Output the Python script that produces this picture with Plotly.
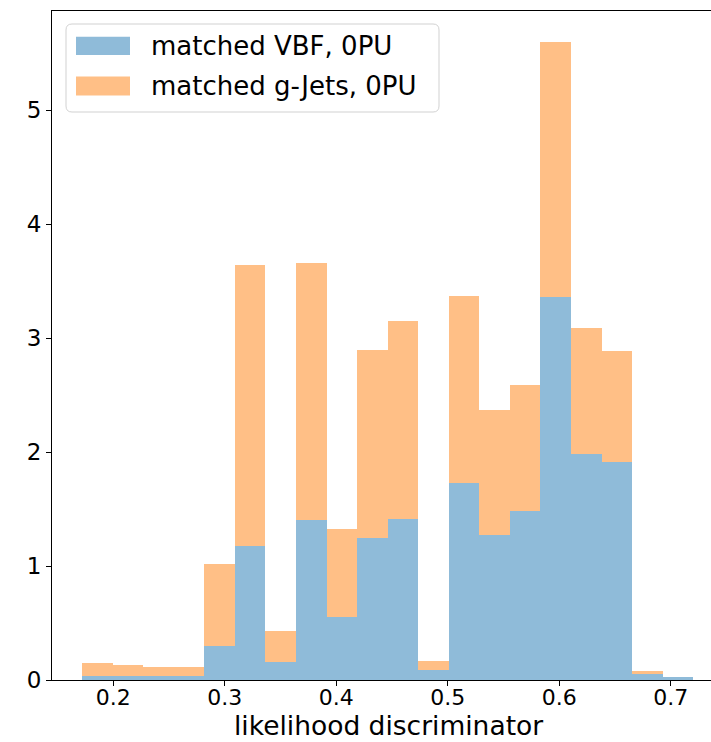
import numpy as np
import plotly.graph_objects as go

# Histogram binning of the likelihood discriminator
bin_lo, bin_hi, n_bins = 0.1719, 0.7202, 20

# Per-bin normalised counts (stacked: VBF at the bottom, g-Jets on top)
vbf_0pu = [0.033, 0.033, 0.033, 0.033, 0.300, 1.175, 0.160, 1.406, 0.551, 1.245,
           1.415, 0.090, 1.731, 1.275, 1.482, 3.358, 1.980, 1.912, 0.051, 0.022]
gjets_0pu = [0.112, 0.103, 0.077, 0.077, 0.714, 2.462, 0.266, 2.257, 0.770, 1.648,
             1.733, 0.079, 1.636, 1.094, 1.104, 2.239, 1.112, 0.978, 0.024, 0.000]

series_names = ["matched VBF, 0PU", "matched g-Jets, 0PU"]
series_colors = ["rgba(31,119,180,0.5)", "rgba(255,127,14,0.5)"]
x_label = "likelihood discriminator"

x_ticks = [0.2, 0.3, 0.4, 0.5, 0.6, 0.7]
y_ticks = [0, 1, 2, 3, 4, 5]

edges = np.linspace(bin_lo, bin_hi, n_bins + 1)
centers = 0.5 * (edges[:-1] + edges[1:])
width = edges[1] - edges[0]

W, H = 711, 742
ML, MR, MT, MB = 52, 0, 11, 62
FONT = "DejaVu Sans"

fig = go.Figure()
for name, vals, col in zip(series_names, [vbf_0pu, gjets_0pu], series_colors):
    fig.add_trace(go.Bar(
        x=centers, y=vals, width=width, name=name,
        marker=dict(color=col, line=dict(width=0)),
        showlegend=False,
    ))

# pixel -> paper helpers for the legend box and axis label
pw, ph = W - ML - MR, H - MT - MB


def px(x):
    return (x - ML) / pw


def py(y):
    return (H - MB - y) / ph


# legend frame with rounded corners
x0, x1, y0, y1, r = 66, 439, 24, 112, 6
rx, ry = r / pw, r / ph
X0, X1, Y0, Y1 = px(x0), px(x1), py(y0), py(y1)
path = (f"M {X0+rx},{Y0} L {X1-rx},{Y0} Q {X1},{Y0} {X1},{Y0-ry} "
        f"L {X1},{Y1+ry} Q {X1},{Y1} {X1-rx},{Y1} L {X0+rx},{Y1} "
        f"Q {X0},{Y1} {X0},{Y1+ry} L {X0},{Y0-ry} Q {X0},{Y0} {X0+rx},{Y0} Z")
shapes = [dict(type="path", path=path, xref="paper", yref="paper",
               line=dict(color="rgba(204,204,204,0.9)", width=1),
               fillcolor="rgba(255,255,255,0.8)", layer="above")]
annotations = []
rows = [(36.7, 55.0), (76.5, 95.5)]
for (ya, yb), name, col in zip(rows, series_names, series_colors):
    shapes.append(dict(type="rect", xref="paper", yref="paper",
                       x0=px(76), x1=px(130), y0=py(yb), y1=py(ya),
                       fillcolor=col, line=dict(width=0), layer="above"))
    annotations.append(dict(text=name, xref="paper", yref="paper",
                            x=px(149), y=py((ya + yb) / 2), xanchor="left",
                            yanchor="middle", showarrow=False,
                            font=dict(family=FONT, size=26, color="black")))

# x-axis label, centred under the full axes box
annotations.append(dict(text=x_label, xref="paper", yref="paper",
                        x=px(388), y=py(742), xanchor="center",
                        yanchor="bottom", showarrow=False, borderpad=0,
                        font=dict(family=FONT, size=26.5, color="black")))

fig.update_layout(
    width=W, height=H,
    margin=dict(l=ML, r=MR, t=MT, b=MB, pad=0),
    paper_bgcolor="white", plot_bgcolor="white",
    barmode="stack", bargap=0,
    font=dict(family=FONT, color="black"),
    shapes=shapes, annotations=annotations,
    xaxis=dict(
        range=[0.14502, 0.73605], tickvals=x_ticks,
        ticktext=[f"{v:.1f}" for v in x_ticks],
        ticks="outside", ticklen=5, tickwidth=1, tickcolor="black",
        ticklabelstandoff=-7,
        showline=True, linecolor="black", linewidth=1, mirror=True,
        showgrid=False, zeroline=False,
        tickfont=dict(family=FONT, size=22, color="black"),
    ),
    yaxis=dict(
        range=[0, 5.87], tickvals=y_ticks,
        ticks="outside", ticklen=5, tickwidth=1, tickcolor="black",
        showline=True, linecolor="black", linewidth=1,
        showgrid=False, zeroline=False,
        tickfont=dict(family=FONT, size=23, color="black"),
    ),
)

fig.write_html("out.html")
